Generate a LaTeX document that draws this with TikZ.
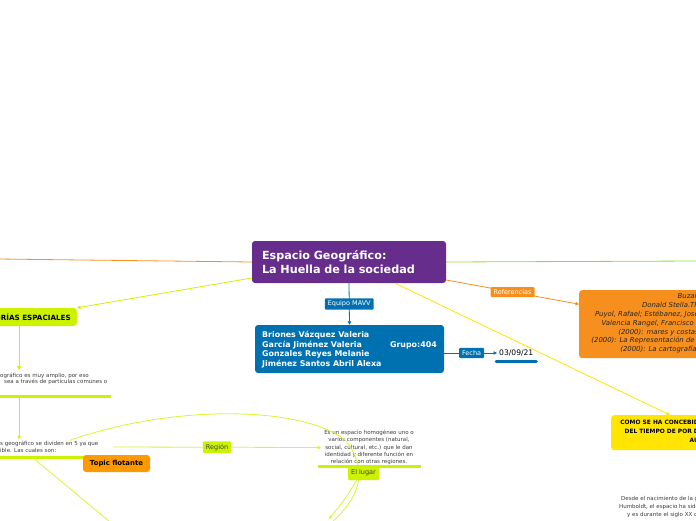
\documentclass[tikz,border=0pt]{standalone}
\usepackage{fontspec}
\setmainfont{DejaVu Sans}
\usetikzlibrary{arrows.meta}

\definecolor{rootpurple}{RGB}{102,45,140}
\definecolor{teamblue}{RGB}{0,113,176}
\definecolor{refsorange}{RGB}{247,143,30}
\definecolor{askyellow}{RGB}{255,229,0}
\definecolor{catlime}{RGB}{204,242,0}
\definecolor{floatorange}{RGB}{255,153,0}
\definecolor{rightgreen}{RGB}{138,226,52}
\definecolor{notegray}{RGB}{60,60,60}

\tikzset{
  box/.style={rounded corners=3pt, inner sep=0pt},
  tag/.style={rounded corners=1pt, inner xsep=3pt, inner ysep=2.5pt,
    font=\fontsize{6.5}{7}\selectfont},
  note/.style={text=notegray, inner sep=0pt, font=\fontsize{5.5}{6.6}\selectfont},
  link/.style={line width=0.8pt},
  tip/.style={-{Triangle[length=3.5pt,width=3.5pt]}},
  underbar/.style={catlime, line width=3pt},
}

\begin{document}
\begin{tikzpicture}[x=1pt,y=-1pt]
\useasboundingbox (0,0) rectangle (696,520);
\clip (0,0) rectangle (696,520);

\coordinate (leftend) at (-2,259);
\coordinate (rightend) at (698,261);
\coordinate (catfoot) at (19,326);
\coordinate (bar1a) at (0,396);
\coordinate (bar1b) at (111,396);
\coordinate (bar2a) at (0,457);
\coordinate (bar2b) at (113,457);
\coordinate (bar3a) at (318,466);
\coordinate (bar3b) at (421,466);
\coordinate (lowleft) at (110,522);
\coordinate (lowmid) at (332,522);
\coordinate (lowtip) at (329,519);

% main topic
\node[box, fill=rootpurple, text=white, minimum width=194pt, minimum height=42pt,
  inner xsep=10pt, text width=174pt, align=left,
  font=\bfseries\fontsize{11.2}{14}\selectfont] (root) at (349,262)
  {Espacio Geográfico:\\La Huella de la sociedad};

% team
\node[box, fill=teamblue, minimum width=189pt, minimum height=48pt] (team) at (349.5,349) {};
\node[anchor=west, text=white, align=left, inner sep=0pt,
  font=\bfseries\fontsize{7.9}{9.6}\selectfont] (names) at (262,349.5)
  {Briones Vázquez Valeria\\García Jiménez Valeria\\Gonzales Reyes Melanie\\Jiménez Santos Abril Alexa};
\node[anchor=east, text=white, inner sep=0pt,
  font=\bfseries\fontsize{7.9}{9.6}\selectfont] (grupo) at (437,345) {Grupo:404};

\node[anchor=west, inner sep=0pt, font=\fontsize{7.6}{8}\selectfont] (date) at (499,353) {03/09/21};

% references
\node[box, fill=refsorange, minimum width=140pt, minimum height=68pt, anchor=north west] (refs) at (579,290) {};
\node[anchor=north east, align=right, inner sep=0pt, text=black!85,
  font=\itshape\fontsize{6.9}{8.9}\selectfont] (refstext) at (699,293)
  {Buzai,\\Donald Stella.Th\\Puyol, Rafael; Estébanez, José\\Valencia Rangel, Francisco (\\(2000): mares y costas\\(2000): La Representación de l\\(2000): La cartografía.};

% question
\node[box, fill=askyellow, minimum width=100pt, minimum height=35pt, anchor=north west] (ask) at (611,415) {};
\node[anchor=north east, align=right, inner sep=0pt,
  font=\bfseries\fontsize{5.9}{9}\selectfont] (asktext) at (699,420)
  {COMO SE HA CONCEBID\\DEL TIEMPO DE POR D\\AU};
\node[note, anchor=north west, align=left, font=\fontsize{5.5}{8}\selectfont] (asknote) at (619,496)
  {\hspace*{2pt}Desde el nacimiento de la g\\Humboldt, el espacio ha sido\\\hspace*{8pt}y es durante el siglo XX q};

% left branch
\node[box, fill=catlime, anchor=east, minimum height=18pt, inner xsep=6pt,
  font=\bfseries\fontsize{7.2}{8}\selectfont] (cat) at (77,317) {CATEGORÍAS ESPACIALES};
\node[note, anchor=west, align=left] (note1) at (0,379)
  {ográfico es muy amplio, por eso\\\hspace*{4pt}sea a través de partículas comunes o};
\node[note, anchor=west, align=left] (note2) at (0,447)
  {s geográfico se dividen en 5 ya que\\ible. Las cuales son:};
\node[note, align=center, font=\fontsize{5.5}{7.2}\selectfont] (regnote) at (369,447.5)
  {Es un espacio homogéneo uno o\\varios componentes (natural,\\social, cultural, etc.) que le dan\\identidad y diferente función en\\relación con otras regiones.};

% connectors
\draw[link, refsorange] (root.west) -- (leftend);
\draw[link, rightgreen] (root.east) -- (rightend);
\draw[link, catlime, tip] ([yshift=-16pt]root.west) -- (cat.north east);
\draw[link, teamblue, tip] (root.south) -- node[tag, fill=teamblue, text=white] {Equipo MAVV} (team.north);
\draw[link, teamblue, tip, shorten >=2pt] ([yshift=-4pt]team.east) -- node[tag, fill=teamblue, text=white] {Fecha} (date.west);
\draw[teamblue, line width=2.5pt, line cap=round] ([xshift=-3pt,yshift=-5pt]date.south west) -- ([xshift=3pt,yshift=-5pt]date.south east);
\draw[link, refsorange, tip] ([yshift=-18pt]root.east) -- node[tag, fill=refsorange, text=white] {Referencias} ([yshift=20pt]refs.west);
\draw[link, askyellow, tip] ([xshift=46pt]root.south) -- ([xshift=59pt]ask.north west);

\draw[link, catlime, tip] (catfoot) -- ([yshift=3pt]catfoot |- note1.north);
\draw[underbar] (bar1a) -- (bar1b);
\draw[link, catlime, tip] ([yshift=-1pt]catfoot |- bar1a) -- ([yshift=2pt]catfoot |- note2.north);
\draw[underbar] (bar2a) -- (bar2b);
\draw[link, catlime!80] ([xshift=32pt]bar2a) -- (lowleft);
\draw[link, catlime!80, tip] (bar2b |- note2.east) -- node[tag, fill=catlime, text=black!75] {Región} ([xshift=-3pt]regnote.west);
\draw[link, catlime!80] ([xshift=70pt,yshift=1pt]note2.north west) .. controls (170,405) and (300,405) .. (345,440)
  .. controls (368,468) and (362,495) .. (lowmid);
\draw[underbar] (bar3a) -- (bar3b);
\node[tag, fill=catlime, text=black!75, minimum width=31pt, minimum height=14pt] (lugar) at (363.5,473) {El lugar};
\draw[link, catlime!80, tip] ([xshift=-7pt]lugar.south) .. controls (348,495) .. (lowtip);

\node[box, fill=floatorange, minimum width=67pt, minimum height=17pt,
  font=\bfseries\fontsize{6.9}{8}\selectfont] (float) at (116.5,463.5) {Topic flotante};
\end{tikzpicture}
\end{document}
